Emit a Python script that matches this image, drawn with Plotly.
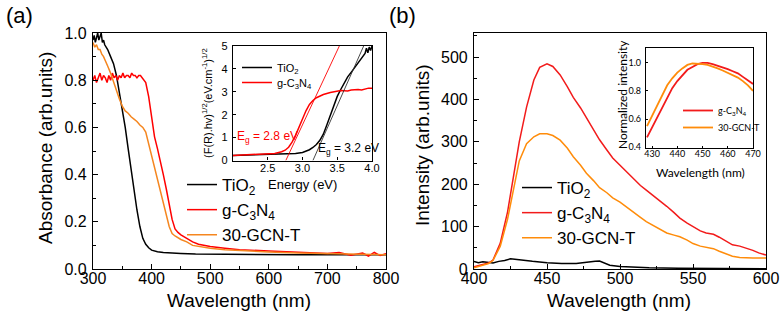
import plotly.graph_objects as go

W, H = 783, 325

# ---------------- Panel (a): UV-vis absorbance ----------------
tio2_wl = [300, 302, 304, 306, 308, 310, 312, 314, 316, 318, 320, 325, 330, 335, 340, 345,
           350, 355, 360, 365, 370, 375, 380, 385, 390, 395, 400, 410, 420, 430, 450, 475,
           500, 550, 600, 650, 700, 750, 800]
tio2_abs = [0.97, 0.99, 0.96, 0.98, 1.0, 0.97, 0.99, 1.0, 0.96, 0.97, 0.95, 0.93, 0.9, 0.87,
            0.82, 0.75, 0.67, 0.6, 0.51, 0.42, 0.33, 0.25, 0.18, 0.13, 0.105, 0.09, 0.08,
            0.073, 0.07, 0.068, 0.066, 0.064, 0.063, 0.062, 0.06, 0.06, 0.06, 0.06, 0.06]

gcn_wl = [300, 303, 306, 309, 312, 315, 318, 321, 324, 327, 330, 333, 336, 339, 342, 345,
          348, 351, 354, 357, 360, 363, 366, 369, 372, 375, 378, 381, 384, 387, 390, 395,
          400, 405, 410, 415, 420, 425, 430, 435, 440, 445, 450, 460, 470, 480, 500, 525,
          550, 600, 650, 700, 720, 740, 760, 770, 780, 790, 800]
gcn_abs = [0.80, 0.82, 0.79, 0.81, 0.83, 0.80, 0.82, 0.81, 0.79, 0.82, 0.80, 0.83, 0.81,
           0.82, 0.80, 0.82, 0.81, 0.83, 0.81, 0.82, 0.82, 0.81, 0.83, 0.82, 0.82, 0.81,
           0.82, 0.82, 0.81, 0.80, 0.79, 0.73, 0.64, 0.56, 0.51, 0.46, 0.40, 0.34, 0.27,
           0.21, 0.17, 0.155, 0.145, 0.13, 0.115, 0.105, 0.095, 0.088, 0.082, 0.076, 0.07,
           0.066, 0.07, 0.058, 0.068, 0.055, 0.07, 0.057, 0.065]

gcnt_wl = [300, 303, 306, 309, 312, 315, 318, 321, 325, 330, 335, 340, 345, 350, 355, 360,
           365, 370, 375, 380, 385, 390, 395, 400, 405, 410, 415, 420, 425, 430, 435, 440,
           450, 460, 470, 480, 500, 525, 550, 600, 650, 700, 750, 800]
gcnt_abs = [0.96, 0.94, 0.95, 0.93, 0.93, 0.91, 0.9, 0.88, 0.86, 0.83, 0.79, 0.76, 0.72,
            0.69, 0.67, 0.66, 0.645, 0.635, 0.625, 0.61, 0.6, 0.58, 0.53, 0.47, 0.42, 0.37,
            0.32, 0.27, 0.22, 0.18, 0.15, 0.14, 0.125, 0.115, 0.1, 0.095, 0.088, 0.082,
            0.078, 0.072, 0.068, 0.065, 0.062, 0.06]

# Inset (a): Tauc plot
tio2_E = [2.0, 2.2, 2.4, 2.6, 2.8, 2.9, 3.0, 3.05, 3.1, 3.15, 3.2, 3.25, 3.3, 3.35, 3.4,
          3.45, 3.5, 3.55, 3.6, 3.65, 3.7, 3.75, 3.8, 3.85, 3.9, 3.92, 3.94, 3.96, 3.98, 4.0]
tio2_F = [0.22, 0.24, 0.25, 0.27, 0.29, 0.31, 0.35, 0.4, 0.47, 0.57, 0.7, 0.88, 1.15, 1.55,
          1.95, 2.4, 2.8, 3.1, 3.4, 3.65, 3.85, 4.05, 4.3, 4.45, 4.68, 4.9, 4.7, 4.95, 4.8, 5.0]
gcn_E = [2.0, 2.2, 2.4, 2.6, 2.7, 2.75, 2.8, 2.85, 2.9, 2.95, 3.0, 3.05, 3.1, 3.15, 3.2,
         3.25, 3.3, 3.4, 3.45, 3.5, 3.55, 3.6, 3.65, 3.7, 3.75, 3.8, 3.85, 3.9, 3.95, 4.0]
gcn_F = [0.22, 0.24, 0.26, 0.31, 0.38, 0.45, 0.58, 0.8, 1.1, 1.48, 1.85, 2.17, 2.45, 2.62,
         2.74, 2.82, 2.88, 2.97, 3.0, 3.02, 3.06, 3.05, 3.04, 3.08, 3.1, 3.1, 3.08, 3.12,
         3.16, 3.15]
gcn_tan_E = [2.76, 3.53]
gcn_tan_F = [0, 5]
tio2_tan_E = [3.15, 3.88]
tio2_tan_F = [0, 5]
inset_a_ticks = [2.5, 3.0, 3.5, 4.0]

# ---------------- Panel (b): PL spectra ----------------
pl_wl = [400, 405, 410, 413, 418, 423, 427, 431, 436, 441, 445, 450, 454, 459, 464, 468,
         473, 477, 482, 486, 491, 495, 500, 505, 509, 514, 518, 523, 527, 532, 537, 541,
         546, 550, 555, 559, 564, 568, 573, 577, 582, 586, 591, 595, 600]
pl_gcn = [5, 10, 14, 21, 61, 135, 217, 300, 382, 446, 476, 484, 478, 458, 430, 405, 380,
          357, 328, 305, 281, 262, 245, 228, 212, 197, 186, 173, 162, 148, 133, 120, 108,
          100, 90, 85, 82, 75, 65, 57, 54, 50, 44, 38, 33]
pl_gcnt = [3, 8, 13, 20, 54, 118, 190, 255, 296, 312, 319, 319, 315, 304, 285, 265, 245,
           226, 208, 192, 180, 168, 158, 145, 133, 122, 112, 102, 93, 85, 80, 76, 68, 60,
           54, 52, 48, 42, 35, 30, 27, 26, 26, 26, 26]
pl_tio2_wl = [400, 403, 406, 410, 413, 417, 421, 425, 429, 433, 440, 450, 460, 470, 478,
              483, 486, 489, 493, 500, 510, 520, 540, 560, 580, 600]
pl_tio2 = [18, 15, 17, 16, 14, 18, 20, 24, 22, 20, 18, 15, 13, 13, 15, 18, 19, 14, 9, 6, 4,
           3, 2, 1, 1, 0.5]

# Inset (b): normalized PL
nb_wl = [428, 430, 432, 434, 436, 438, 440, 442, 444, 446, 448, 450, 452, 454, 456, 458,
         460, 462, 464, 466, 468, 470]
nb_gcn = [0.47, 0.54, 0.62, 0.69, 0.76, 0.82, 0.87, 0.91, 0.95, 0.97, 0.99, 1.0, 1.0, 0.99,
          0.98, 0.97, 0.955, 0.94, 0.925, 0.9, 0.875, 0.85]
nb_gcnt = [0.55, 0.62, 0.70, 0.77, 0.84, 0.89, 0.93, 0.96, 0.985, 0.995, 0.995, 0.99, 0.985,
           0.975, 0.96, 0.945, 0.93, 0.91, 0.895, 0.87, 0.84, 0.80]

BLACK = "#000000"
RED = "#FF0000"
ORANGE = "#F5861F"
RED_B = "#F21B1B"
ORANGE_B = "#FF8C0A"
FONT = "Liberation Sans, Arial, sans-serif"
FONT_B = "Lato, Open Sans, sans-serif"


def px_x(p):
    return p / W


def px_y(p):
    return 1 - p / H


fig = go.Figure()

# Panel (a) main
fig.add_trace(go.Scatter(x=tio2_wl, y=tio2_abs, mode="lines", name="TiO<sub>2</sub>",
                         line=dict(color=BLACK, width=1.5), xaxis="x", yaxis="y", legend="legend"))
fig.add_trace(go.Scatter(x=gcn_wl, y=gcn_abs, mode="lines", name="g-C<sub>3</sub>N<sub>4</sub>",
                         line=dict(color=RED, width=1.5), xaxis="x", yaxis="y", legend="legend"))
fig.add_trace(go.Scatter(x=gcnt_wl, y=gcnt_abs, mode="lines", name="30-GCN-T",
                         line=dict(color=ORANGE, width=1.5), xaxis="x", yaxis="y", legend="legend"))

# Inset (a)
fig.add_trace(go.Scatter(x=tio2_E, y=tio2_F, mode="lines", name="TiO<sub>2</sub>",
                         line=dict(color=BLACK, width=1.5), xaxis="x3", yaxis="y3", legend="legend3"))
fig.add_trace(go.Scatter(x=gcn_E, y=gcn_F, mode="lines", name="g-C<sub>3</sub>N<sub>4</sub>",
                         line=dict(color=RED, width=1.5), xaxis="x3", yaxis="y3", legend="legend4"))
fig.add_trace(go.Scatter(x=gcn_tan_E, y=gcn_tan_F, mode="lines", showlegend=False,
                         line=dict(color=RED, width=0.9), xaxis="x3", yaxis="y3"))
fig.add_trace(go.Scatter(x=tio2_tan_E, y=tio2_tan_F, mode="lines", showlegend=False,
                         line=dict(color="#333333", width=0.9), xaxis="x3", yaxis="y3"))

# Panel (b) main
fig.add_trace(go.Scatter(x=pl_tio2_wl, y=pl_tio2, mode="lines", name="TiO<sub>2</sub>",
                         line=dict(color=BLACK, width=1.5), xaxis="x2", yaxis="y2", legend="legend2"))
fig.add_trace(go.Scatter(x=pl_wl, y=pl_gcn, mode="lines", name="g-C<sub>3</sub>N<sub>4</sub>",
                         line=dict(color=RED_B, width=1.5), xaxis="x2", yaxis="y2", legend="legend2"))
fig.add_trace(go.Scatter(x=pl_wl, y=pl_gcnt, mode="lines", name="30-GCN-T",
                         line=dict(color=ORANGE_B, width=1.5), xaxis="x2", yaxis="y2", legend="legend2"))

# Inset (b)
fig.add_trace(go.Scatter(x=nb_wl, y=nb_gcn, mode="lines", name="g-C<sub>3</sub>N<sub>4</sub>",
                         line=dict(color=RED_B, width=1.8), xaxis="x4", yaxis="y4", legend="legend5"))
fig.add_trace(go.Scatter(x=nb_wl, y=nb_gcnt, mode="lines", name="30-GCN-T",
                         line=dict(color=ORANGE_B, width=1.8), xaxis="x4", yaxis="y4", legend="legend6"))


def axis(domain, rng, dtick, mdtick, fsize, family, anchor, ticklen=5, mlen=3, fmt=None,
         tickvals=None, standoff=2):
    d = dict(domain=domain, range=rng, dtick=dtick, tick0=0, ticks="inside", ticklen=ticklen,
             tickwidth=1, tickcolor="black", showline=True, linecolor="black", linewidth=1.2,
             mirror=True, showgrid=False, zeroline=False, anchor=anchor, automargin=False,
             tickfont=dict(family=family, size=fsize, color="black"), ticklabelstandoff=standoff)
    if fmt:
        d["tickformat"] = fmt
    if tickvals is not None:
        d["tickmode"] = "array"
        d["tickvals"] = tickvals
    if mdtick:
        d["minor"] = dict(ticks="inside", ticklen=mlen, dtick=mdtick, tickcolor="black", showgrid=False)
    return d


ya_dom = [px_y(269), px_y(33)]
fig.update_layout(
    template="none",
    width=W, height=H, margin=dict(l=0, r=0, t=0, b=0, autoexpand=False),
    paper_bgcolor="white", plot_bgcolor="rgba(0,0,0,0)",
    font=dict(family=FONT, color="black"),
    xaxis=axis([px_x(93), px_x(386)], [300, 800], 100, 50, 16, FONT, "y", standoff=-5),
    yaxis=axis(ya_dom, [0, 1.0], 0.2, 0.1, 16, FONT, "x", fmt=".1f"),
    xaxis2=axis([px_x(474), px_x(766)], [400, 600], 50, 25, 16, FONT, "y2", standoff=-5),
    yaxis2=axis(ya_dom, [0, 557], 100, 50, 16, FONT, "x2"),
    xaxis3=axis([px_x(233), px_x(372)], [2.0, 4.0], 0.5, None, 11, FONT, "y3", ticklen=3,
                fmt=".1f", tickvals=inset_a_ticks, standoff=-3),
    yaxis3=axis([px_y(160.5), px_y(46)], [0, 5], 1, None, 11, FONT, "x3", ticklen=3),
    xaxis4=axis([px_x(646), px_x(753)], [427.6, 470], 10, None, 9, FONT_B, "y4", ticklen=2,
                standoff=-3),
    yaxis4=axis([px_y(148), px_y(48)], [0.395, 1.105], 0.2, None, 9, FONT_B, "x4", ticklen=2,
                fmt=".1f"),
    showlegend=True,
)

leg_common = dict(bgcolor="rgba(0,0,0,0)", borderwidth=0, xanchor="left", yanchor="top",
                  tracegroupgap=0)
fig.update_layout(
    legend=dict(x=px_x(182), y=px_y(167), font=dict(family=FONT, size=17), **leg_common),
    legend2=dict(x=px_x(517), y=px_y(170), font=dict(family=FONT, size=17), **leg_common),
    legend3=dict(x=px_x(237), y=px_y(53), font=dict(family=FONT, size=11), **leg_common),
    legend4=dict(x=px_x(237), y=px_y(68), font=dict(family=FONT, size=11), **leg_common),
    legend5=dict(x=px_x(678), y=px_y(96), font=dict(family=FONT_B, size=9), **leg_common),
    legend6=dict(x=px_x(678), y=px_y(113), font=dict(family=FONT_B, size=9), **leg_common),
)

ann = []


def add_text(text, x, y, size, family=FONT, color="black", angle=0, xanchor="center",
             yanchor="middle"):
    ann.append(dict(text=text, x=px_x(x), y=px_y(y), xref="paper", yref="paper",
                    showarrow=False, font=dict(family=family, size=size, color=color),
                    textangle=angle, xanchor=xanchor, yanchor=yanchor))


add_text("(a)", 4, 16, 22, xanchor="left")
add_text("(b)", 387, 16, 22, xanchor="left")
add_text("Absorbance (arb.units)", 45, 148, 19, angle=-90)
add_text("Wavelength (nm)", 239, 300, 19)
add_text("Intensity (arb.units)", 422, 145, 19, angle=-90)
add_text("Wavelength (nm)", 619, 300, 19)
add_text("(F(R).hv)<sup>1/2</sup>(eV.cm<sup>-1</sup>)<sup>1/2</sup>", 207, 103, 11, angle=-90)
add_text("Energy (eV)", 302, 184, 13)
add_text("E<sub>g</sub> = 2.8 eV", 235, 137, 12, color=RED, xanchor="left")
add_text("E<sub>g</sub> = 3.2 eV", 316, 149, 12, xanchor="left")
add_text("Normalized intensity", 622, 95, 12, family=FONT_B, angle=-90)
add_text("Wavelength (nm)", 700, 173, 12, family=FONT_B)
fig.update_layout(annotations=ann)

fig.write_html("out.html", config={"displayModeBar": False},
               post_script="document.body.style.margin='0';document.body.style.padding='0';")
